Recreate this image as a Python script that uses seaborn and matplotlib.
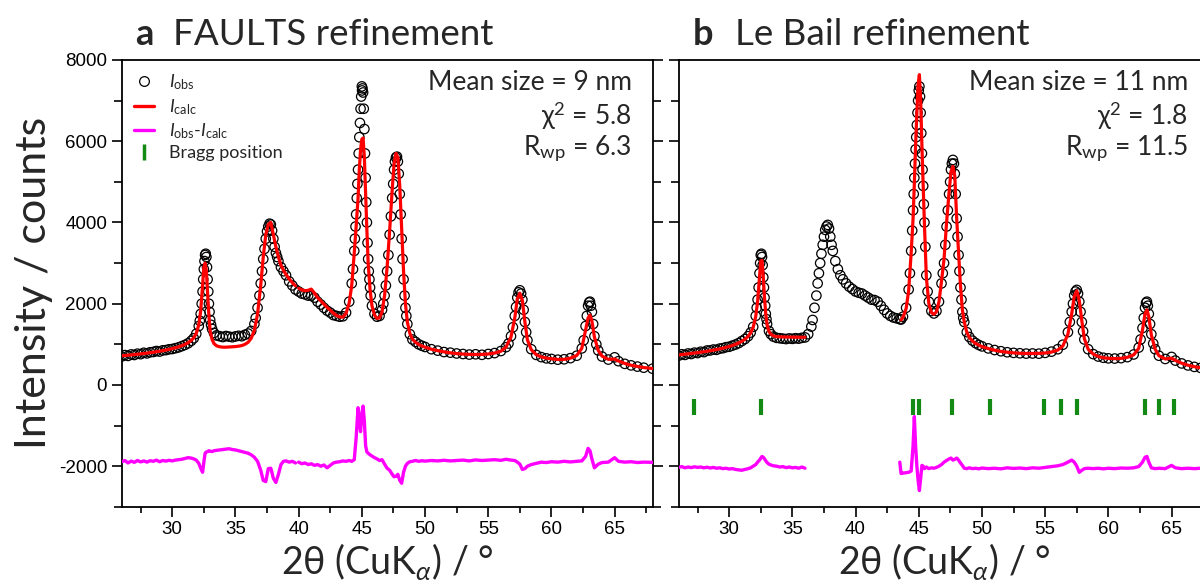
import numpy as np
import pandas as pd
import matplotlib
matplotlib.use("Agg")
import matplotlib.pyplot as plt
import seaborn as sns
from matplotlib.lines import Line2D
from matplotlib.ticker import MultipleLocator

nan = np.nan

# ---- panel a: FAULTS refinement ----
tt_a = [26.0, 26.25, 26.5, 26.75, 27.0, 27.25, 27.5, 27.75, 28.0, 28.25, 28.5, 28.75, 29.0, 29.25, 29.5, 29.75,
        30.0, 30.25, 30.5, 30.75, 31.0, 31.25, 31.5, 31.7, 31.9, 32.1, 32.25, 32.4, 32.5, 32.6, 32.7, 32.8, 32.9,
        33.0, 33.15, 33.3, 33.5, 33.75, 34.0, 34.25, 34.5, 34.75, 35.0, 35.25, 35.5, 35.75, 36.0, 36.25, 36.5,
        36.75, 37.0, 37.2, 37.4, 37.6, 37.8, 38.0, 38.2, 38.4, 38.6, 38.8, 39.0, 39.25, 39.5, 39.75, 40.0, 40.25,
        40.5, 40.75, 41.0, 41.25, 41.5, 41.75, 42.0, 42.25, 42.5, 42.75, 43.0, 43.25, 43.5, 43.75, 44.0, 44.2,
        44.4, 44.55, 44.7, 44.8, 44.9, 45.0, 45.1, 45.2, 45.3, 45.4, 45.5, 45.65, 45.8, 46.0, 46.2, 46.4, 46.6,
        46.8, 47.0, 47.2, 47.4, 47.55, 47.7, 47.85, 48.0, 48.15, 48.3, 48.45, 48.6, 48.8, 49.0, 49.25, 49.5,
        49.75, 50.0, 50.5, 51.0, 51.5, 52.0, 52.5, 53.0, 53.5, 54.0, 54.5, 55.0, 55.5, 56.0, 56.4, 56.8, 57.1,
        57.3, 57.5, 57.7, 57.9, 58.1, 58.4, 58.8, 59.2, 59.6, 60.0, 60.5, 61.0, 61.5, 62.0, 62.4, 62.7, 62.9,
        63.05, 63.2, 63.4, 63.7, 64.0, 64.5, 65.0, 65.3, 65.8, 66.3, 66.8, 67.3, 68.0]
obs_a = [700, 735, 715, 752, 738, 770, 758, 792, 778, 805, 812, 835, 822, 852, 858, 878,
         885, 905, 925, 955, 985, 1025, 1085, 1150, 1260, 1450, 1750, 2300, 2850, 3200, 3150, 2600, 2000,
         1600, 1380, 1280, 1220, 1200, 1180, 1205, 1190, 1175, 1195, 1210, 1200, 1235, 1265, 1330, 1500,
         1900, 2500, 3100, 3600, 3900, 3950, 3600, 3250, 3050, 2900, 2800, 2700, 2550, 2450, 2350, 2300, 2250,
         2230, 2200, 2200, 2150, 2050, 1980, 1900, 1830, 1780, 1720, 1700, 1680, 1690, 1780, 2050, 2500,
         3300, 4200, 5300, 6100, 6800, 7350, 7200, 6300, 5100, 4000, 3100, 2400, 1950, 1750, 1680, 1700, 1850,
         2200, 2800, 3700, 4600, 5300, 5600, 5500, 4700, 3600, 2600, 1900, 1500, 1250, 1120, 1060, 1000,
         965, 935, 880, 845, 810, 795, 775, 762, 748, 755, 742, 762, 785, 835, 930, 1200, 1700,
         2150, 2330, 2100, 1550, 1100, 880, 740, 685, 655, 640, 622, 632, 660, 720, 900, 1450, 1950,
         2050, 1800, 1200, 850, 700, 625, 680, 585, 520, 482, 452, 425, 400]
calc_a = [720, 725, 732, 740, 748, 756, 765, 774, 784, 795, 806, 818, 831, 845, 860, 877,
          895, 915, 938, 965, 998, 1040, 1095, 1160, 1270, 1480, 1820, 2450, 2900, 3000, 2800, 2250, 1700,
          1330, 1120, 1020, 965, 940, 930, 930, 935, 940, 945, 955, 970, 1000, 1050, 1150, 1350,
          1750, 2450, 3150, 3700, 3950, 4000, 3700, 3400, 3150, 2950, 2820, 2720, 2610, 2520, 2440, 2380, 2340,
          2320, 2330, 2360, 2260, 2150, 2070, 1990, 1910, 1840, 1770, 1710, 1675, 1670, 1760, 2020, 2450,
          3250, 3900, 4600, 5300, 5800, 6050, 6080, 5600, 4700, 3800, 3000, 2350, 1950, 1720, 1640, 1650, 1800,
          2200, 2900, 3800, 4800, 5450, 5700, 5600, 4900, 3850, 2800, 2000, 1550, 1270, 1130, 1050, 995,
          960, 930, 880, 845, 815, 790, 772, 760, 752, 750, 752, 762, 785, 830, 930, 1180, 1650,
          2120, 2260, 2080, 1550, 1110, 870, 745, 690, 660, 645, 628, 630, 660, 725, 900, 1350, 1650,
          1720, 1580, 1180, 850, 710, 630, 640, 590, 530, 485, 455, 428, 405]
diff_a = [-1890, -1860, -1920, -1875, -1905, -1860, -1895, -1870, -1900, -1865, -1880, -1850, -1890, -1860, -1875, -1855,
          -1870, -1850, -1840, -1830, -1810, -1790, -1800, -1820, -1850, -1930, -2050, -2150, -1900, -1680, -1650, -1640, -1620,
          -1630, -1640, -1620, -1610, -1600, -1590, -1580, -1570, -1590, -1600, -1620, -1640, -1660, -1680, -1720, -1780,
          -1880, -2100, -2350, -2380, -2060, -2050, -2300, -2400, -2200, -1960, -1880, -1870, -1900, -1880, -1920, -1900, -1940,
          -1920, -1960, -1940, -1980, -1960, -2000, -1970, -2040, -1980, -1920, -1900, -1890, -1870, -1880, -1860, -1880,
          -1840, -1300, -560, -900, -1150, -700, -520, -900, -1500, -1650, -1680, -1720, -1750, -1790, -1820, -1860, -1840,
          -1950, -2050, -2100, -2200, -2260, -2250, -2200, -2350, -2420, -2150, -2000, -1930, -1890, -1880, -1860, -1880,
          -1865, -1875, -1860, -1870, -1855, -1870, -1860, -1850, -1870, -1845, -1860, -1850, -1840, -1855, -1830, -1850, -1860,
          -1900, -1950, -2080, -2060, -2000, -1960, -1930, -1900, -1910, -1890, -1900, -1880, -1895, -1880, -1870, -1760, -1560,
          -1620, -1820, -2040, -1950, -1910, -1900, -1790, -1880, -1900, -1890, -1910, -1900, -1905]
# extra observed points read on the steep peak flanks
tt_a_extra = [32.18, 32.33, 32.45, 32.55, 32.65, 32.75, 32.85, 32.95, 33.07,
              36.6, 36.9, 37.1, 37.3, 37.5, 37.7, 37.9, 38.1, 38.3,
              44.3, 44.45, 44.5, 44.6, 44.65, 44.75, 44.85, 44.95, 45.02, 45.05, 45.15, 45.25, 45.35, 45.45,
              45.55, 45.6, 45.7,
              46.7, 46.9, 47.1, 47.3, 47.48, 47.62, 47.78, 47.92, 48.07, 48.22, 48.38, 48.52,
              56.6, 56.95, 57.2, 57.4, 57.6, 57.8, 58.0,
              62.55, 62.8, 62.98, 63.12, 63.3, 63.55]
obs_a_extra = [1580, 2000, 2600, 3050, 3230, 2900, 2300, 1800, 1480,
               1650, 2200, 2800, 3350, 3780, 3970, 3800, 3400, 3150,
               2850, 3600, 3900, 4600, 4950, 5700, 6450, 7100, 7250, 7300, 6800, 5700, 4500, 3500,
               2800, 2600, 2200,
               2000, 2450, 3200, 4150, 4950, 5500, 5620, 5200, 4200, 3100, 2200, 1700,
               1020, 1420, 1920, 2280, 2250, 1850, 1300,
               1100, 1700, 2030, 1950, 1500, 1000]

# ---- panel b: Le Bail refinement ----
tt_b = [26.0, 26.25, 26.5, 26.75, 27.0, 27.25, 27.5, 27.75, 28.0, 28.25, 28.5, 28.75, 29.0, 29.25, 29.5, 29.75,
        30.0, 30.25, 30.5, 30.75, 31.0, 31.25, 31.5, 31.7, 31.9, 32.1, 32.25, 32.4, 32.5, 32.6, 32.7, 32.8, 32.9,
        33.0, 33.15, 33.3, 33.5, 33.75, 34.0, 34.25, 34.5, 34.75, 35.0, 35.25, 35.5, 35.75, 36.0, 36.25, 36.5,
        36.75, 37.0, 37.2, 37.4, 37.6, 37.8, 38.0, 38.2, 38.4, 38.6, 38.8, 39.0, 39.25, 39.5, 39.75, 40.0, 40.25,
        40.5, 40.75, 41.0, 41.25, 41.5, 41.75, 42.0, 42.25, 42.5, 42.75, 43.0, 43.25, 43.5, 43.6, 43.75, 44.0,
        44.2, 44.4, 44.55, 44.65, 44.75, 44.85, 44.95, 45.05, 45.15, 45.25, 45.35, 45.45, 45.6, 45.8, 46.0, 46.2,
        46.4, 46.6, 46.8, 47.0, 47.2, 47.4, 47.55, 47.7, 47.85, 48.0, 48.15, 48.3, 48.45, 48.6, 48.8, 49.0,
        49.25, 49.5, 49.75, 50.0, 50.5, 51.0, 51.5, 52.0, 52.5, 53.0, 53.5, 54.0, 54.5, 55.0, 55.5, 56.0, 56.4,
        56.8, 57.1, 57.3, 57.5, 57.7, 57.9, 58.1, 58.4, 58.8, 59.2, 59.6, 60.0, 60.5, 61.0, 61.5, 62.0, 62.4,
        62.7, 62.9, 63.05, 63.2, 63.4, 63.7, 64.0, 64.5, 65.0, 65.3, 65.8, 66.3, 66.8, 67.3, 68.0]
obs_b = [720, 755, 740, 775, 762, 795, 785, 818, 808, 848, 850, 872, 865, 895, 905, 930,
         940, 968, 995, 1030, 1080, 1130, 1200, 1290, 1430, 1700, 2100, 2750, 3200, 3150, 2650, 2150, 1750,
         1500, 1330, 1250, 1190, 1160, 1150, 1140, 1130, 1145, 1135, 1150, 1140, 1160, 1170, 1250, 1437,
         1900, 2500, 3000, 3450, 3818, 3940, 3650, 3300, 3050, 2850, 2700, 2600, 2500, 2420, 2360, 2300, 2270,
         2250, 2200, 2150, 2100, 2090, 2050, 1950, 1850, 1760, 1700, 1660, 1640, 1620, 1610, 1680, 1900,
         2350, 3300, 4300, 5100, 5800, 6400, 7000, 7350, 6700, 5700, 4900, 4000, 2700, 2050, 1820, 1760,
         1820, 2050, 2500, 3000, 3900, 4700, 5300, 5540, 5200, 4100, 3200, 2400, 1800, 1550, 1300, 1180,
         1090, 1030, 985, 950, 900, 860, 830, 805, 790, 780, 772, 775, 770, 790, 820, 880, 990,
         1300, 1800, 2200, 2340, 2050, 1550, 1120, 880, 760, 700, 670, 655, 650, 660, 685, 750, 920,
         1400, 1900, 2050, 1750, 1250, 880, 720, 640, 690, 600, 530, 480, 445, 420, 395]
calc_b = [740, 748, 757, 766, 775, 785, 795, 806, 818, 830, 843, 857, 872, 888, 905, 925,
          948, 972, 1000, 1035, 1075, 1125, 1195, 1280, 1420, 1680, 2050, 2650, 3050, 3070, 2650, 2130, 1730,
          1480, 1320, 1250, 1210, 1190, 1185, 1182, 1180, 1178, 1177, 1176, 1175, 1174, 1174, nan, nan,
          nan, nan, nan, nan, nan, nan, nan, nan, nan, nan, nan, nan, nan, nan, nan, nan, nan,
          nan, nan, nan, nan, nan, nan, nan, nan, nan, nan, nan, nan, nan, 1600, 1660, 1880,
          2320, 3250, 4100, 4950, 5900, 6700, 7400, 7640, 7000, 5900, 4900, 3950, 2650, 2000, 1780, 1740,
          1800, 2050, 2550, 3100, 4000, 4750, 5250, 5380, 5150, 4100, 3250, 2450, 1850, 1550, 1300, 1170,
          1080, 1020, 980, 945, 895, 855, 825, 805, 790, 780, 775, 775, 778, 785, 810, 860, 960,
          1250, 1750, 2180, 2320, 2080, 1580, 1140, 880, 760, 700, 670, 655, 648, 655, 680, 740, 900,
          1350, 1750, 1850, 1680, 1230, 880, 720, 640, 660, 605, 535, 485, 450, 422, 400]
diff_b = [-2030, -2010, -2040, -2020, -2035, -2015, -2030, -2020, -2040, -2025, -2045, -2030, -2050, -2040, -2060, -2050,
          -2070, -2060, -2080, -2090, -2100, -2080, -2060, -2040, -2000, -1960, -1900, -1850, -1800, -1760, -1780, -1820, -1870,
          -1910, -1950, -1970, -1990, -2000, -2020, -2010, -2035, -2020, -2040, -2030, -2050, -2020, -2050, nan, nan,
          nan, nan, nan, nan, nan, nan, nan, nan, nan, nan, nan, nan, nan, nan, nan, nan, nan,
          nan, nan, nan, nan, nan, nan, nan, nan, nan, nan, nan, nan, -1900, -2180, -2170, -2160,
          -2150, -2120, -1500, -780, -1500, -2000, -2350, -2600, -2300, -1980, -2000, -2060, -2020, -2060, -2040, -2050,
          -2030, -2000, -1960, -1900, -1860, -1820, -1800, -1850, -1830, -1800, -1850, -1920, -1980, -2050, -2060, -2040,
          -2060, -2050, -2065, -2045, -2060, -2050, -2065, -2040, -2055, -2045, -2060, -2040, -2050, -2030, -2010, -1990, -1960,
          -1900, -1850, -1900, -2000, -2150, -2100, -2060, -2050, -2060, -2050, -2065, -2050, -2060, -2045, -2050, -2040, -2010,
          -1900, -1780, -1760, -1900, -2040, -2060, -2050, -2060, -1980, -2040, -2060, -2050, -2060, -2050, -2055]
tt_b_extra = [32.18, 32.33, 32.45, 32.55, 32.65, 32.75, 32.85, 32.95,
              36.6, 36.9, 37.1, 37.3, 37.5, 37.7, 37.9, 38.1,
              44.3, 44.48, 44.6, 44.7, 44.8, 44.9, 45.0, 45.1, 45.2, 45.3, 45.4, 45.52, 45.7,
              46.9, 47.1, 47.3, 47.48, 47.62, 47.78, 47.92, 48.07, 48.22, 48.38, 48.52,
              56.95, 57.2, 57.4, 57.6, 57.8, 58.0,
              62.55, 62.8, 62.98, 63.12, 63.3, 63.55]
obs_b_extra = [1900, 2400, 3000, 3230, 2950, 2400, 1950, 1620,
               1600, 2200, 2750, 3230, 3650, 3900, 3850, 3450,
               2750, 3800, 4700, 5450, 6100, 6700, 7250, 7100, 6200, 5300, 4450, 3400, 2300,
               2750, 3450, 4300, 5000, 5450, 5450, 4700, 3650, 2800, 2100, 1650,
               1550, 2000, 2300, 2250, 1800, 1320,
               1120, 1650, 2020, 1950, 1500, 1020]
bragg_b = [27.25, 32.55, 44.52, 45.05, 47.65, 50.61, 54.93, 56.25, 57.5, 62.93, 64.04, 65.21]

x_ticks = [30, 35, 40, 45, 50, 55, 60, 65]
y_ticks = [-2000, 0, 2000, 4000, 6000, 8000]

sns.set_style("ticks")
plt.rcParams["font.family"] = ["Lato", "DejaVu Sans"]
plt.rcParams["mathtext.fontset"] = "custom"
plt.rcParams["mathtext.rm"] = "Lato"
plt.rcParams["mathtext.it"] = "Lato:italic"
plt.rcParams["mathtext.bf"] = "Lato:bold"
plt.rcParams["axes.unicode_minus"] = False

fig = plt.figure(figsize=(12, 5.87), dpi=100)
ax_a = fig.add_axes([0.1014, 0.1366, 0.4424, 0.7612])
ax_b = fig.add_axes([0.5655, 0.1366, 0.4424, 0.7612])


def draw_panel(ax, tt, obs, calc, diff, tt_extra, obs_extra):
    df = pd.DataFrame({"tt": tt, "obs": obs, "calc": calc, "diff": diff})
    df["seg"] = np.where(df["tt"] < 40, 0, 1)
    pts = pd.concat([df[["tt", "obs"]], pd.DataFrame({"tt": tt_extra, "obs": obs_extra})])
    sns.scatterplot(data=pts, x="tt", y="obs", ax=ax, marker="o", s=46,
                    facecolors="none", edgecolor="black", linewidth=0.9, zorder=2)
    sns.lineplot(data=df.dropna(subset=["calc"]), x="tt", y="calc", units="seg", estimator=None,
                 ax=ax, color="red", lw=2.3, sort=False, zorder=3)
    sns.lineplot(data=df.dropna(subset=["diff"]), x="tt", y="diff", units="seg", estimator=None,
                 ax=ax, color="magenta", lw=2.4, sort=False, zorder=3)
    ax.set_xlim(26, 68)
    ax.set_ylim(-3000, 8000)
    ax.xaxis.set_minor_locator(MultipleLocator(2.5))
    ax.yaxis.set_minor_locator(MultipleLocator(1000))
    ax.set_xticks(x_ticks)
    ax.set_xticklabels([str(t) for t in x_ticks], fontfamily="Liberation Sans", fontsize=13.5)
    ax.set_yticks(y_ticks)
    ax.set_yticklabels([str(t) for t in y_ticks], fontfamily="Liberation Sans", fontsize=13.5)
    ax.tick_params(which="both", direction="out", top=False, right=True, width=1.2, colors="black")
    ax.tick_params(which="major", length=7)
    ax.tick_params(axis="x", which="minor", length=4)
    ax.tick_params(axis="y", which="minor", length=6)
    for s in ax.spines.values():
        s.set_linewidth(1.3)
        s.set_color("black")
    ax.set_xlabel(r"2θ (CuK$_{α}$) / °", fontsize=27, labelpad=2)
    ax.set_ylabel("")


draw_panel(ax_a, tt_a, obs_a, calc_a, diff_a, tt_a_extra, obs_a_extra)
draw_panel(ax_b, tt_b, obs_b, calc_b, diff_b, tt_b_extra, obs_b_extra)

sns.scatterplot(x=bragg_b, y=[-540] * len(bragg_b), ax=ax_b, marker="|", s=130,
                color="#138a13", linewidth=3, zorder=4)

ax_a.set_ylabel("Intensity / counts", fontsize=31, labelpad=4)
ax_b.tick_params(labelleft=False)

# panel titles
ax_a.text(0.025, 1.034, "a", fontsize=26, weight="bold", transform=ax_a.transAxes, va="baseline")
ax_a.text(0.0966, 1.034, "FAULTS refinement", fontsize=26.5, transform=ax_a.transAxes, va="baseline")
ax_b.text(0.027, 1.034, "b", fontsize=26, weight="bold", transform=ax_b.transAxes, va="baseline")
ax_b.text(0.106, 1.034, "Le Bail refinement", fontsize=26.5, transform=ax_b.transAxes, va="baseline")

# fit statistics
for ax, xr, lines in [(ax_a, 0.961, ["Mean size = 9 nm", "χ$^2$ = 5.8", r"R$_{\mathrm{wp}}$ = 6.3"]),
                      (ax_b, 0.9595, ["Mean size = 11 nm", "χ$^2$ = 1.8", r"R$_{\mathrm{wp}}$ = 11.5"])]:
    for yy, txt in zip([0.933, 0.854, 0.787], lines):
        ax.text(xr, yy, txt, fontsize=19, ha="right", va="baseline", transform=ax.transAxes)

handles = [
    Line2D([], [], marker="o", mfc="none", mec="black", mew=0.9, ls="none", ms=7),
    Line2D([], [], color="red", lw=2.4),
    Line2D([], [], color="magenta", lw=2.4),
    Line2D([], [], marker="|", color="#138a13", ls="none", ms=12, mew=2.5),
]
labels = [r"$I_{\mathrm{obs}}$", r"$I_{\mathrm{calc}}$",
          r"$I_{\mathrm{obs}}$-$I_{\mathrm{calc}}$", "Bragg position"]
ax_a.legend(handles, labels, loc="upper left", frameon=False, fontsize=13,
            handlelength=1.1, handletextpad=0.8, labelspacing=0.25,
            borderaxespad=0.3, bbox_to_anchor=(0.0, 1.0))

fig.savefig("out.png", dpi=100)
